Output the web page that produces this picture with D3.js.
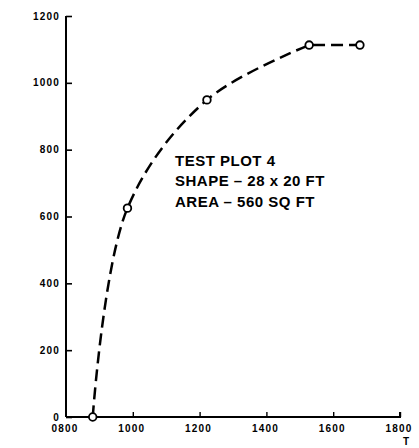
<!DOCTYPE html>
<html><head><meta charset="utf-8">
<script src="https://cdn.jsdelivr.net/npm/d3@7"></script>
<style>body{margin:0;background:#fff}svg{display:block}</style>
</head><body>
<svg id="c" width="419" height="448"></svg>
<script>
const times = [880, 984, 1222, 1528, 1680];
const values = [0, 625, 949, 1113, 1113];
const xTicks = [800, 1000, 1200, 1400, 1600, 1800];
const xTickLabels = ["0800", "1000", "1200", "1400", "1600", "1800"];
const yTicks = [0, 200, 400, 600, 800, 1000, 1200];
const notes = ["TEST PLOT 4", "SHAPE \u2013 28 x 20 FT", "AREA \u2013 560 SQ FT"];

const svg = d3.select("#c");
const x = d3.scaleLinear().domain([800, 1800]).range([66, 400]);
const y = d3.scaleLinear().domain([0, 1200]).range([417, 16]);
const font = "'Liberation Sans', Arial, sans-serif";

// y axis
const ya = svg.append("g").attr("transform", `translate(${x(800)},0)`)
  .call(d3.axisRight(y).tickValues(yTicks).tickSize(6).tickFormat(""));
ya.select(".domain").attr("stroke-width", 2).attr("d", `M0,${y(1200)}H0V${y(0)}`);
ya.selectAll(".tick line").attr("stroke-width", 1.6);
svg.append("g").selectAll("text").data(yTicks).join("text")
  .attr("x", 60).attr("y", d => y(d)).attr("dy", "0.36em")
  .attr("text-anchor", "end").attr("font-family", font).attr("font-weight", "bold")
  .attr("font-size", 10).attr("letter-spacing", 1.2).text(d => d);

// x axis
const xa = svg.append("g").attr("transform", `translate(0,${y(0)})`)
  .call(d3.axisTop(x).tickValues(xTicks.slice(1)).tickSize(5).tickFormat(""));
xa.select(".domain").attr("stroke-width", 2).attr("d", `M${x(800)},0H${x(1800)}V-5`);
xa.selectAll(".tick line").attr("stroke-width", 1.4);
svg.append("g").selectAll("text").data(xTicks).join("text")
  .attr("x", d => x(d) - 1).attr("y", 432)
  .attr("text-anchor", "middle").attr("font-family", font).attr("font-weight", "bold")
  .attr("font-size", 10).attr("letter-spacing", 1.2).text((d, i) => xTickLabels[i]);
svg.append("text").attr("x", 403).attr("y", 445).attr("font-family", font)
  .attr("font-weight", "bold").attr("font-size", 10).text("T");

// curve: smooth rise through the first four points, flat run to the last
const pts = times.map((t, i) => [t, values[i]]);
const line = d3.line().x(d => x(d[0])).y(d => y(d[1])).curve(d3.curveCatmullRom.alpha(0.5));
const last = pts[pts.length - 1];
const pathD = line(pts.slice(0, pts.length - 1)) + `L${x(last[0])},${y(last[1])}`;
svg.append("path").attr("d", pathD).attr("fill", "none").attr("stroke", "#000")
  .attr("stroke-width", 2.5).attr("stroke-dasharray", "12,6");
svg.append("g").selectAll("circle").data(pts).join("circle")
  .attr("cx", d => x(d[0])).attr("cy", d => y(d[1])).attr("r", 3.8)
  .attr("fill", "#fff").attr("stroke", "#000").attr("stroke-width", 1.8);

// annotation
svg.append("g").selectAll("text").data(notes).join("text")
  .attr("x", 175).attr("y", (d, i) => 166 + i * 20.4)
  .attr("font-family", font).attr("font-weight", "bold").attr("font-size", 15)
  .attr("letter-spacing", 0.5).text(d => d);
</script>
</body></html>
